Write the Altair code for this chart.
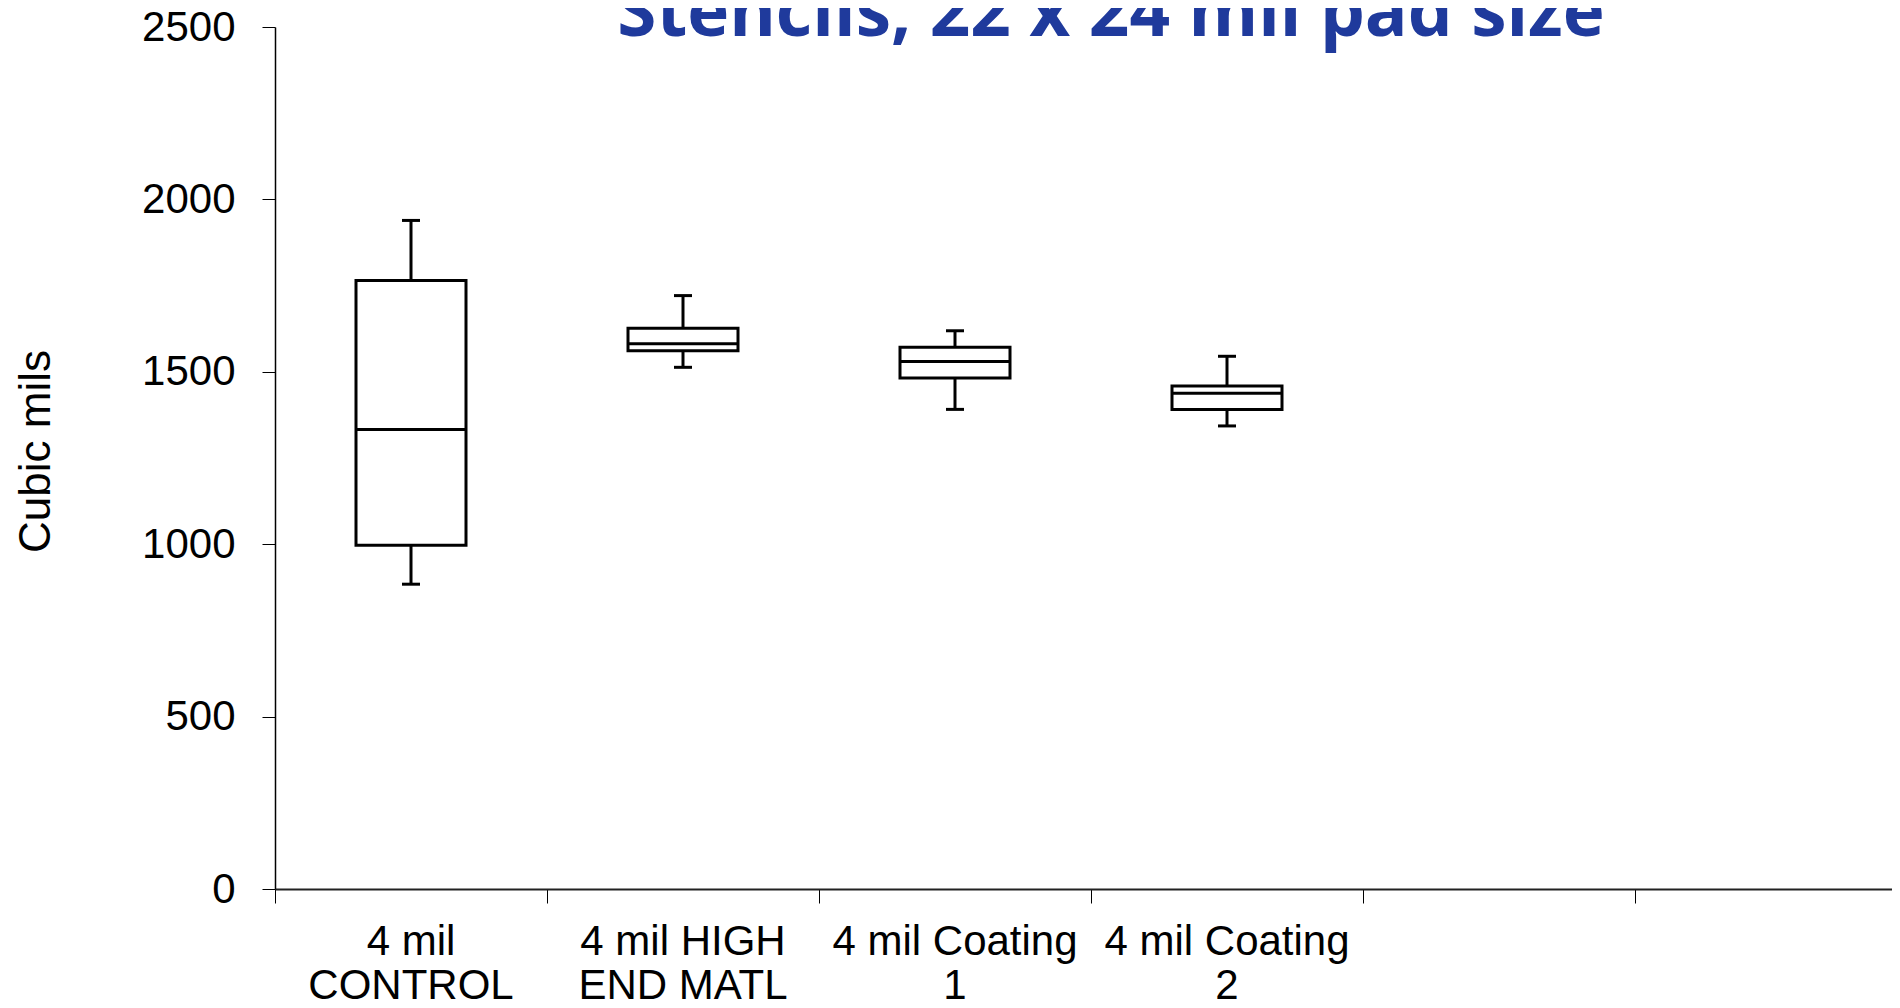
import altair as alt
import pandas as pd

title_text = ["Stencils, 22 x 24 mil pad size"]
categories = ["4 mil CONTROL", "4 mil HIGH END MATL", "4 mil Coating 1", "4 mil Coating 2"]
label_line1 = ["4 mil", "4 mil HIGH", "4 mil Coating", "4 mil Coating"]
label_line2 = ["CONTROL", "END MATL", "1", "2"]
blank_slots = ["blank A", "blank B"]
mins = [884, 1513, 1391, 1343]
q1s = [997, 1561, 1482, 1391]
medians = [1333, 1581, 1530, 1438]
q3s = [1765, 1626, 1571, 1459]
maxs = [1939, 1721, 1619, 1545]
y_ticks = [0, 500, 1000, 1500, 2000, 2500]

df = pd.DataFrame({
    "cat": categories,
    "line1": label_line1,
    "line2": label_line2,
    "lo": mins,
    "q1": q1s,
    "mid": medians,
    "q3": q3s,
    "hi": maxs,
})
title_df = pd.DataFrame({"t": title_text})

FONT = "Liberation Sans"

x_scale = alt.Scale(domain=categories + blank_slots, range=[0, 1632], paddingInner=0, paddingOuter=0)
y_scale = alt.Scale(domain=[0, 2500], nice=False)

x_axis = alt.Axis(
    title=None,
    labels=False,
    tickBand="extent",
    tickSize=14,
    tickColor="black",
    domainColor="#222222",
    domainWidth=2,
)

y_axis = alt.Axis(
    title="Cubic mils",
    values=y_ticks,
    format="d",
    tickSize=13,
    tickColor="black",
    domainColor="black",
    domainWidth=1.5,
    grid=False,
    labelFont=FONT,
    labelFontSize=42,
    labelColor="black",
    labelPadding=27,
    titleFont=FONT,
    titleFontSize=44,
    titleFontWeight="normal",
    titleColor="black",
    titleAngle=270,
    titleAlign="center",
    titleBaseline="alphabetic",
    titleX=-226,
    titleY=424,
)

base = alt.Chart(df)

whisker = base.mark_rule(color="black", strokeWidth=3).encode(
    x=alt.X("cat:N", scale=x_scale, axis=x_axis, sort=None),
    y=alt.Y("lo:Q", scale=y_scale, axis=y_axis),
    y2="hi:Q",
)

box = base.mark_bar(size=110, fill="white", stroke="black", strokeWidth=3, opacity=1).encode(
    x=alt.X("cat:N", sort=None),
    y=alt.Y("q1:Q"),
    y2="q3:Q",
)

median = base.mark_tick(size=110, thickness=3, color="black", opacity=1).encode(
    x=alt.X("cat:N", sort=None),
    y=alt.Y("mid:Q"),
)

cap_lo = base.mark_tick(size=18, thickness=3, color="black", opacity=1).encode(
    x=alt.X("cat:N", sort=None),
    y=alt.Y("lo:Q"),
)

cap_hi = base.mark_tick(size=18, thickness=3, color="black", opacity=1).encode(
    x=alt.X("cat:N", sort=None),
    y=alt.Y("hi:Q"),
)

lab1 = base.mark_text(font=FONT, fontSize=42, color="black", align="center", baseline="alphabetic").encode(
    x=alt.X("cat:N", sort=None),
    y=alt.value(928),
    text="line1:N",
)

lab2 = base.mark_text(font=FONT, fontSize=42, color="black", align="center", baseline="alphabetic").encode(
    x=alt.X("cat:N", sort=None),
    y=alt.value(972),
    text="line2:N",
)

title = alt.Chart(title_df).mark_text(
    font="Open Sans", fontSize=71, fontWeight="bold", color="#1f3a9c",
    align="center", baseline="alphabetic",
).encode(
    x=alt.value(836),
    y=alt.value(9),
    text="t:N",
)

chart = alt.layer(whisker, box, median, cap_lo, cap_hi, lab1, lab2, title).properties(
    width=1617,
    height=862,
    padding={"left": 267, "top": 19, "right": 0, "bottom": 111},
    autosize=alt.AutoSizeParams(type="none"),
    background="white",
).configure_view(stroke=None)

chart.save("out.html", embed_options={"renderer": "svg", "actions": False})
